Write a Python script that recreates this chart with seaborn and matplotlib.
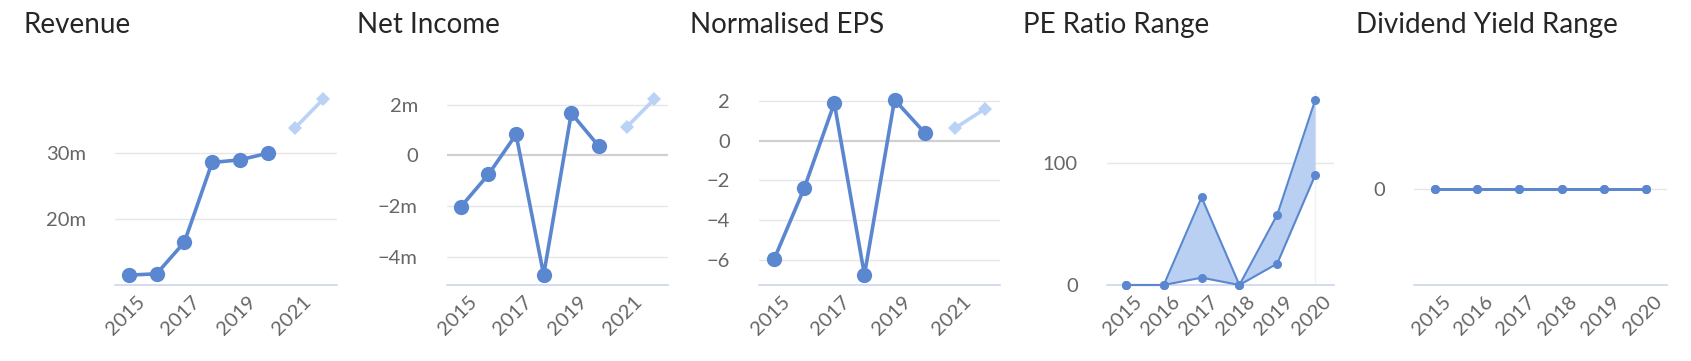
import numpy as np
import pandas as pd
import matplotlib
matplotlib.use("Agg")
import matplotlib.pyplot as plt
from matplotlib.ticker import FuncFormatter
from matplotlib.transforms import ScaledTranslation
import seaborn as sns

# ---------------- data ----------------
years_hist = [2015, 2016, 2017, 2018, 2019, 2020]
years_fc = [2021, 2022]

revenue_hist = [11.5, 11.7, 16.5, 28.6, 29.0, 30.0]      # millions
revenue_fc = [33.9, 38.2]
net_income_hist = [-2.03, -0.75, 0.83, -4.72, 1.67, 0.36]  # millions
net_income_fc = [1.12, 2.22]
eps_hist = [-5.97, -2.40, 1.88, -6.75, 2.05, 0.39]
eps_fc = [0.62, 1.59]

pe_years = [2015, 2016, 2017, 2018, 2019, 2020]
pe_high = [0, 0, 71.7, 0, 57.5, 151.0]
pe_low = [0, 0, 6.0, 0, 17.5, 89.6]

dy_years = [2015, 2016, 2017, 2018, 2019, 2020]
dy_high = [0, 0, 0, 0, 0, 0]
dy_low = [0, 0, 0, 0, 0, 0]

titles = ["Revenue", "Net Income", "Normalised EPS", "PE Ratio Range", "Dividend Yield Range"]

# ---------------- style ----------------
sns.set_theme(style="white")
plt.rcParams["font.family"] = ["Lato", "DejaVu Sans"]

BLUE = "#5a87cf"
LIGHT = "#b9d2f5"
FILL = "#bad0f3"
GRID = "#e6e6e6"
AXIS = "#ccd6eb"
TICK = "#666666"

W, H = 1691, 361
fig = plt.figure(figsize=(W / 100, H / 100), dpi=100)

def px_axes(x0, x1, top=92, bottom=285):
    return fig.add_axes([x0 / W, 1 - bottom / H, (x1 - x0) / W, (bottom - top) / H])

def m_fmt(v, _):
    s = f"{v:g}m" if v != 0 else "0"
    return s.replace("-", "\u2212")

def n_fmt(v, _):
    return f"{v:g}".replace("-", "\u2212")

shift = ScaledTranslation(17 / 100, 0, fig.dpi_scale_trans)

def base_style(ax, yticks, fmt, zero_line=False):
    ax.set_yticks(yticks)
    ax.yaxis.set_major_formatter(FuncFormatter(fmt))
    for s in ["top", "right", "left"]:
        ax.spines[s].set_visible(False)
    ax.spines["bottom"].set_color(AXIS)
    ax.spines["bottom"].set_linewidth(1.2)
    ax.grid(False)
    for t in yticks:
        if zero_line and t == 0:
            ax.axhline(t, color="#d0d0d0", lw=1.6, zorder=0)
        else:
            ax.axhline(t, color=GRID, lw=1.0, zorder=0)
    ax.tick_params(axis="y", length=0, pad=21, labelsize=14.5, labelcolor=TICK)
    ax.tick_params(axis="x", length=0, pad=13, labelsize=14.5, labelcolor=TICK)
    for lab in ax.get_xticklabels():
        lab.set_rotation(45)
        lab.set_ha("right")
        lab.set_va("baseline")
        lab.set_rotation_mode("anchor")
        lab.set_transform(lab.get_transform() + shift)
    ax.set_xlabel("")
    ax.set_ylabel("")

def line_panel(ax, hist, fc, ylim, yticks, fmt, zero_line=False):
    dh = pd.DataFrame({"year": years_hist, "value": hist})
    dfc = pd.DataFrame({"year": years_fc, "value": fc})
    sns.lineplot(data=dh, x="year", y="value", ax=ax, color=BLUE, lw=2.6,
                 marker="o", markersize=11, markeredgewidth=0, clip_on=False, zorder=3)
    sns.lineplot(data=dfc, x="year", y="value", ax=ax, color=LIGHT, lw=2.6,
                 marker="D", markersize=7.5, markeredgewidth=0, clip_on=False, zorder=3)
    ax.set_xlim(years_hist[0] - 0.5, years_fc[-1] + 0.5)
    ax.set_ylim(*ylim)
    ax.set_xticks([2015, 2017, 2019, 2021])
    ax.set_xticklabels(["2015", "2017", "2019", "2021"])
    base_style(ax, yticks, fmt, zero_line)

ax1 = px_axes(115, 337)
line_panel(ax1, revenue_hist, revenue_fc, (10, 39.3), [20, 30], m_fmt)

ax2 = px_axes(447, 668)
line_panel(ax2, net_income_hist, net_income_fc, (-5.12, 2.51), [-4, -2, 0, 2], m_fmt, zero_line=True)

ax3 = px_axes(759, 1000)
line_panel(ax3, eps_hist, eps_fc, (-7.26, 2.44), [-6, -4, -2, 0, 2], n_fmt, zero_line=True)

# PE ratio range
ax4 = px_axes(1107, 1334)
ax4.fill_between(pe_years, pe_low, pe_high, color=FILL, lw=0, zorder=1)
ax4.axvline(pe_years[-1], color="#f0f0f5", lw=1, zorder=0)
for series in (pe_high, pe_low):
    d = pd.DataFrame({"year": pe_years, "value": series})
    sns.lineplot(data=d, x="year", y="value", ax=ax4, color=BLUE, lw=1.5,
                 marker="o", markersize=6.5, markeredgewidth=0, clip_on=False, zorder=3)
ax4.set_xlim(pe_years[0] - 0.5, pe_years[-1] + 0.5)
ax4.set_ylim(0, 157.8)
ax4.set_xticks(pe_years)
ax4.set_xticklabels([str(y) for y in pe_years])
base_style(ax4, [0, 100], n_fmt)

# Dividend yield range
ax5 = px_axes(1414, 1667)
ax5.fill_between(dy_years, dy_low, dy_high, color=FILL, lw=0, zorder=1)
for series in (dy_high, dy_low):
    d = pd.DataFrame({"year": dy_years, "value": series})
    sns.lineplot(data=d, x="year", y="value", ax=ax5, color=BLUE, lw=2.0,
                 marker="o", markersize=6.5, markeredgewidth=0, clip_on=False, zorder=3)
ax5.set_xlim(dy_years[0] - 0.5, dy_years[-1] + 0.5)
ax5.set_ylim(-1, 1)
ax5.set_xticks(dy_years)
ax5.set_xticklabels([str(y) for y in dy_years])
base_style(ax5, [0], n_fmt)

# titles
title_x = [24, 357, 690, 1023, 1356]
for tx, t in zip(title_x, titles):
    fig.text(tx / W, 1 - 33 / H, t, fontsize=20, color="#262626", ha="left", va="baseline")

fig.savefig("out.png", dpi=100, facecolor="white")
